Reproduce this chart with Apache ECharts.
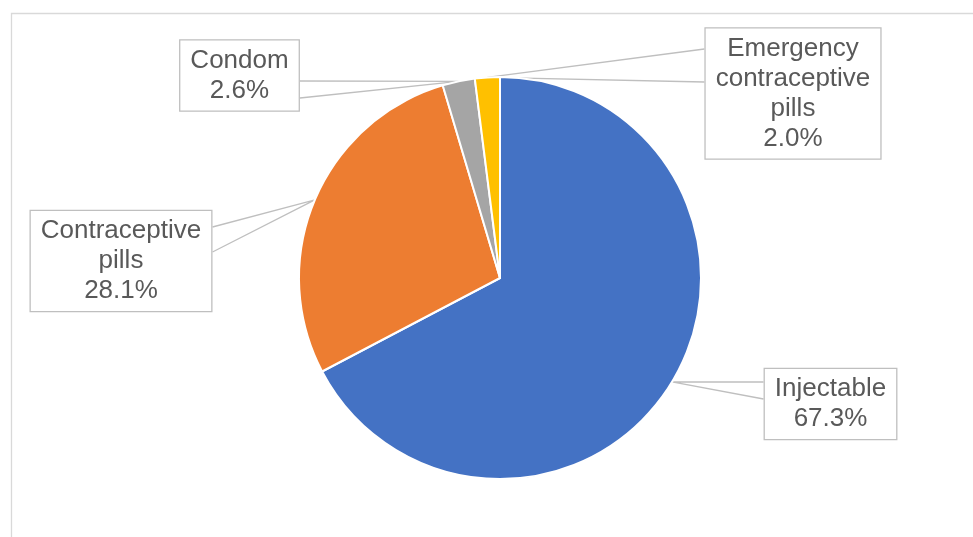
<!DOCTYPE html>
<html>
<head>
<meta charset="utf-8">
<script src="https://cdn.jsdelivr.net/npm/echarts@6/dist/echarts.min.js"></script>
<style>
  html, body { margin: 0; padding: 0; background: #fff; }
  #chart { width: 973px; height: 537px; }
</style>
</head>
<body>
<div id="chart"></div>
<script>
var categories = ['Injectable', 'Contraceptive\npills', 'Condom', 'Emergency\ncontraceptive\npills'];
var shares = [67.3, 28.1, 2.6, 2.0];
var colors = ['#4472C4', '#ED7D31', '#A5A5A5', '#FFC000'];

// where each callout box sits and where its wedge meets the box edge
var callouts = [
    { cx: 830.5, cy: 404, side: 'left', y1: 382, y2: 399 },
    { cx: 121, cy: 261, side: 'right', y1: 227, y2: 252 },
    { cx: 239.5, cy: 75.5, side: 'right', y1: 81, y2: 98 },
    { cx: 793, cy: 93.5, side: 'left', y1: 49, y2: 82 }
];

var pieData = categories.map(function (name, i) {
    return { name: name, value: shares[i], itemStyle: { color: colors[i] } };
});

var option = {
    animation: false,
    graphic: [{
        type: 'rect',
        shape: { x: 11.5, y: 13.5, width: 980, height: 560 },
        style: { fill: 'none', stroke: '#D9D9D9', lineWidth: 1.3 },
        silent: true
    }],
    series: [{
        type: 'pie',
        center: [500, 278],
        radius: [0, 201],
        startAngle: 90,
        clockwise: true,
        avoidLabelOverlap: false,
        itemStyle: { borderColor: '#fff', borderWidth: 2 },
        emphasis: { disabled: true },
        label: {
            show: true,
            position: 'outside',
            formatter: function (p) {
                return p.name + '\n' + p.value.toFixed(1) + '%';
            },
            color: '#595959',
            fontFamily: '"Liberation Sans", Arial, sans-serif',
            fontSize: 26,
            lineHeight: 30,
            align: 'center',
            backgroundColor: '#fff',
            borderColor: '#BFBFBF',
            borderWidth: 1.3,
            padding: [5, 10]
        },
        labelLine: {
            show: true,
            length: 10,
            length2: 10,
            smooth: false,
            lineStyle: { color: '#BFBFBF', width: 1.3 }
        },
        labelLayout: function (params) {
            var c = callouts[params.dataIndex];
            var w = params.labelRect.width;
            var ex = c.side === 'left' ? c.cx - w / 2 : c.cx + w / 2;
            var res = { x: c.cx, y: c.cy, align: 'center', verticalAlign: 'middle' };
            if (params.labelLinePoints) {
                var a = params.labelLinePoints[0];
                res.labelLinePoints = [[ex, c.y1], [a[0], a[1]], [ex, c.y2]];
            }
            return res;
        },
        data: pieData
    }]
};

var myChart = echarts.init(document.getElementById('chart'));
myChart.setOption(option);
</script>
</body>
</html>
